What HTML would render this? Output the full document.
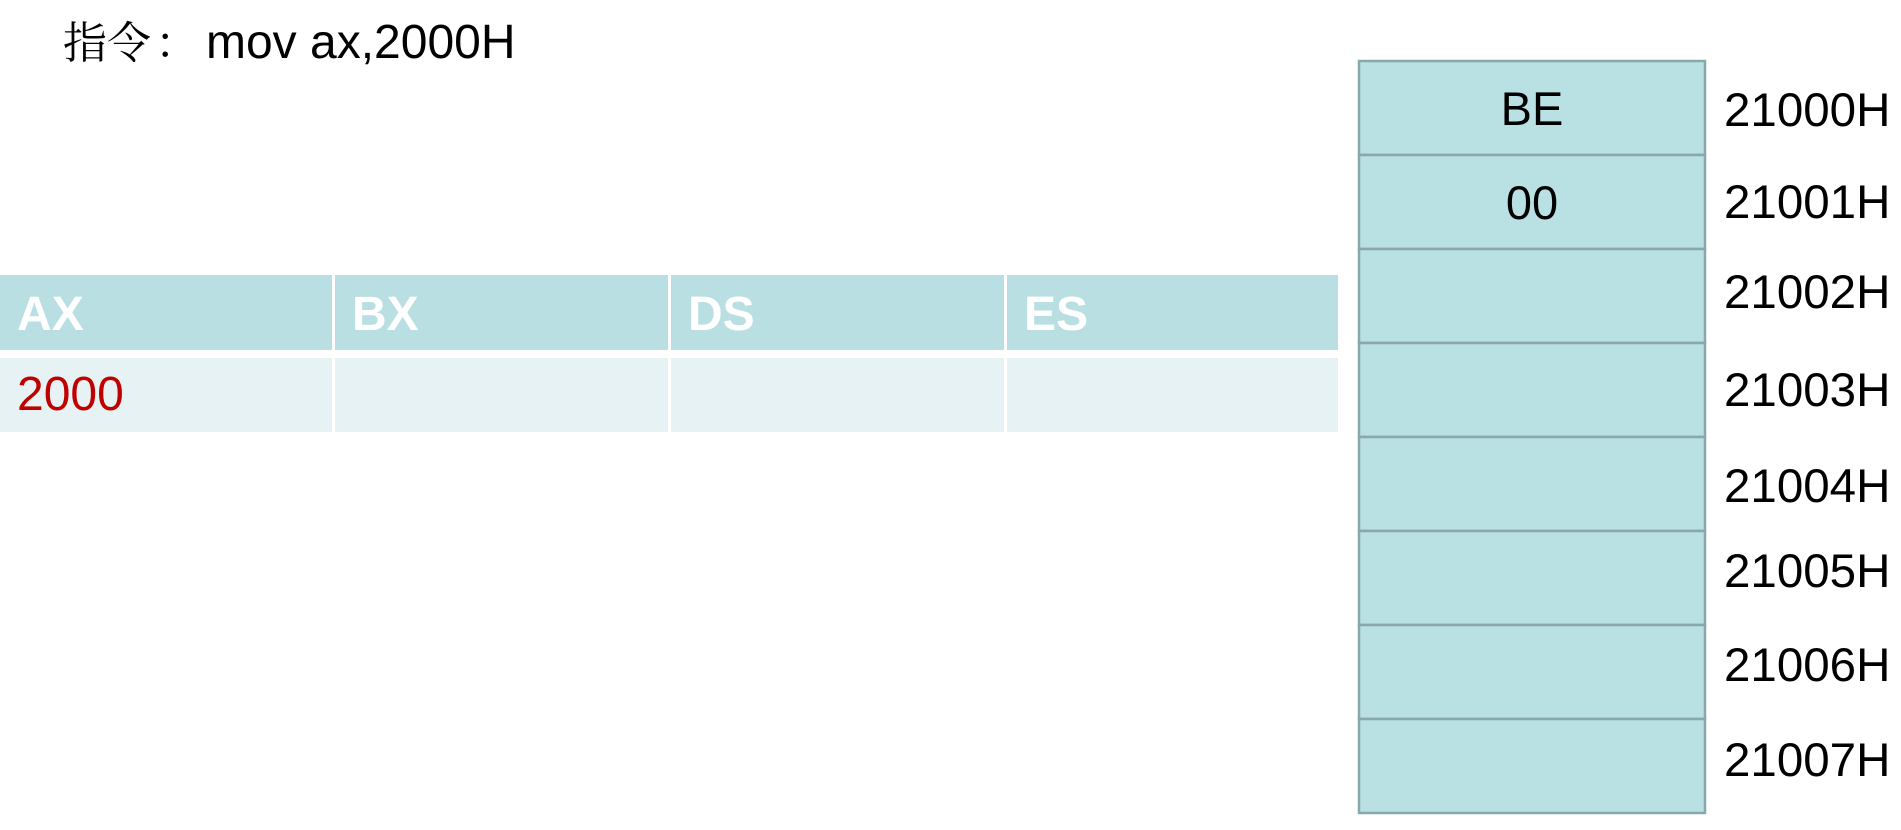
<!DOCTYPE html>
<html><head><meta charset="utf-8"><style>
html,body{margin:0;padding:0;background:#fff;width:1901px;height:830px;overflow:hidden}
svg text{font-family:"Liberation Sans","Noto Sans CJK SC",sans-serif}
</style></head><body>
<svg width="1901" height="830" viewBox="0 0 1901 830">
<text x="63" y="58" font-size="48" fill="#000"><tspan font-family="'Noto Serif CJK SC',serif" font-size="44">指令</tspan><tspan font-family="'Noto Serif CJK SC',serif" font-size="44" dx="4">：</tspan><tspan x="206">mov ax,2000H</tspan></text>
<g id="regs"></g>
<g id="mem"></g>
</svg>
<script>
const regNames=["AX","BX","DS","ES"];
const regValues=["2000","","",""];
const memValues=["BE","00","","","","","",""];
const memAddrs=["21000H","21001H","21002H","21003H","21004H","21005H","21006H","21007H"];
const labelY=[109,201,291,389,485,570,664,759];
const NS="http://www.w3.org/2000/svg";
function mk(t,a,p,txt){const e=document.createElementNS(NS,t);for(const k in a)e.setAttribute(k,a[k]);if(txt!==undefined)e.textContent=txt;p.appendChild(e);return e;}
const regs=document.getElementById('regs');
const colX=[0,335,671,1007,1338];
regNames.forEach((n,i)=>{
  const x0=colX[i],w=colX[i+1]-colX[i]-(i<3?3:0);
  const h=mk('rect',{x:x0,y:275,width:w,height:75,fill:'#b9dfe2'},regs);
  
  
  const ht=mk('text',{x:x0+17,y:330,'font-size':48,'font-weight':'bold',fill:'#fff'},regs,n);
  
  
  const c=mk('rect',{x:x0,y:358,width:w,height:74,fill:'#e6f2f4'},regs);
  
  
  if(regValues[i]){
    const vt=mk('text',{x:x0+17,y:410,'font-size':48,fill:'#c00000'},regs,regValues[i]);
    
    
  }
});
const mem=document.getElementById('mem');
const mx=1359,mw=346,my=61,rh=94;
memValues.forEach((v,i)=>{
  const r=mk('rect',{x:mx,y:my+i*rh,width:mw,height:rh,fill:'#b9e0e2',stroke:'#88a8ab','stroke-width':2.5},mem);
  
  
  if(v){
    const t=mk('text',{x:mx+mw/2,y:my+i*rh+rh/2+17,'font-size':47,'text-anchor':'middle',fill:'#000'},mem,v);
    
    
  }
  const a=mk('text',{x:1724,y:labelY[i]+17,'font-size':47.5,fill:'#000'},mem,memAddrs[i]);
  
  
});
</script>
</body></html>
